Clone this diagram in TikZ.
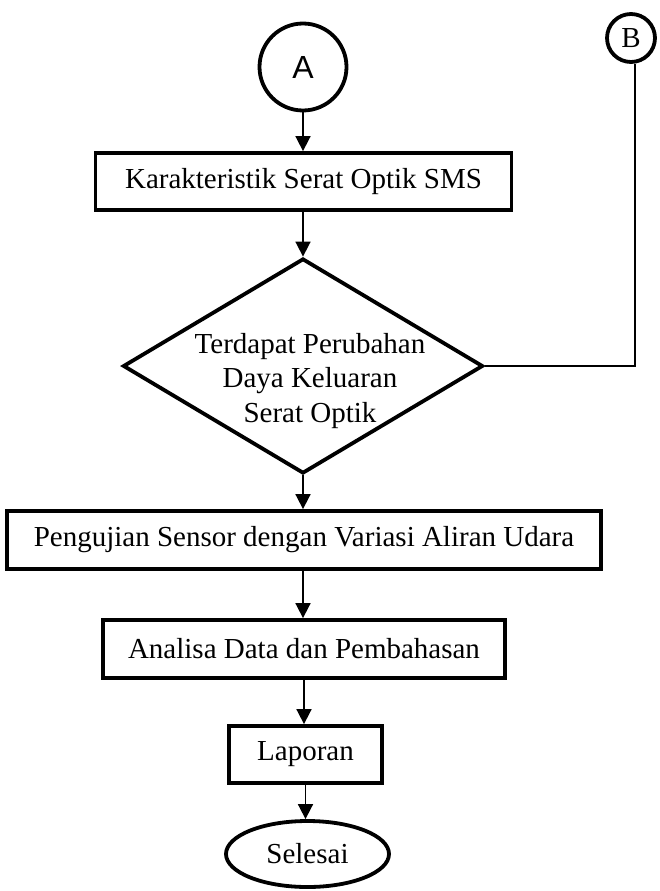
\documentclass[tikz,border=0pt]{standalone}
\usepackage{fontspec}
\setmainfont{Liberation Serif}
\newfontfamily\arialfont{Liberation Sans}
\usetikzlibrary{shapes.geometric,arrows.meta}
\begin{document}
\begin{tikzpicture}[x=1pt,y=1pt,
  every node/.style={font=\fontsize{29}{34.5}\selectfont},
  procbox/.style={draw, line width=3.8pt, rectangle, inner sep=0pt},
  conn/.style={circle, draw, line width=3.8pt, inner sep=0pt},
  arr/.style={line width=1.7pt, -{Triangle[width=15pt,length=15pt]}},
  plain/.style={line width=1.7pt}]
\useasboundingbox (0,0) rectangle (659,-891);
\node[conn, minimum size=87pt, font=\arialfont\fontsize{32}{36}\selectfont] (A) at (303,-67) {A};
\node[conn, minimum size=48pt] (B) at (631,-38) {B};
\node[procbox, minimum width=416pt, minimum height=57pt] (k1) at (303.5,-181.5) {Karakteristik Serat Optik SMS};
\node[diamond, draw, line width=3.8pt, minimum width=360pt, minimum height=215pt, inner sep=0pt] (dec) at (303,-366) {};
\node[anchor=base, align=center, inner sep=0pt] (dect) at (310,-422) {Terdapat Perubahan\\Daya Keluaran\\Serat Optik};
\node[procbox, minimum width=594pt, minimum height=58pt] (k2) at (304,-540) {Pengujian Sensor dengan Variasi Aliran Udara};
\node[procbox, minimum width=402pt, minimum height=58pt] (k3) at (304,-649) {Analisa Data dan Pembahasan};
\node[procbox, minimum width=153pt, minimum height=57pt] (k4) at (305.5,-754.5) {Laporan};
\node[ellipse, draw, line width=3.8pt, minimum width=163pt, minimum height=66pt, inner sep=0pt] (end) at (307.5,-854) {Selesai};
\coordinate (bc) at (635,-366);
\draw[arr] (A.south) -- (A.south |- k1.north);
\draw[arr] (k1.south -| dec.north) -- (dec.north);
\draw[arr] (dec.south) -- (dec.south |- k2.north);
\draw[arr] (k2.south -| dec.south) -- (dec.south |- k3.north);
\draw[arr] (k3.south) -- (k3.south |- k4.north);
\draw[arr] (k4.south) -- (k4.south |- end.north);
\draw[plain] (dec.east) -- (bc) -- (bc |- B.south);
\end{tikzpicture}
\end{document}
